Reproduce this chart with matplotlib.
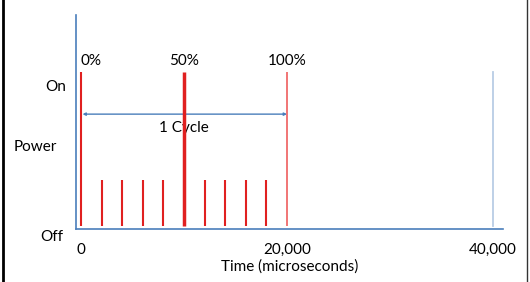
import matplotlib.pyplot as plt
from matplotlib.lines import Line2D

# pulse positions (microseconds) and heights (On = 1)
short_pulses = [2000, 4000, 6000, 8000, 12000, 14000, 16000, 18000]
short_height = 0.31
tall_pulses = [0, 10000, 20000]
tall_labels = ['0%', '50%', '100%']
tall_colors = ['#e02020', '#e02020', '#f06a6a']
tall_widths = [1.5, 2.5, 1.3]
next_cycle = 40000
cycle_start, cycle_end = 0, 20000
xticks = [0, 20000, 40000]
xtick_labels = ['0', '20,000', '40,000']

plt.rcParams['font.family'] = ['Lato', 'DejaVu Sans']
fs = 11

fig = plt.figure(figsize=(5.3, 2.82), dpi=100)
ax = fig.add_axes([76 / 530, 1 - 229 / 282, (503 - 76) / 530, (229 - 15) / 282])
ax.set_xlim(-485, 40970)
ax.set_ylim(0, 1.36)

base = 0.02
for x in short_pulses:
    ax.plot([x, x], [base, short_height], color='#e02020', lw=1.5, solid_capstyle='butt', zorder=3)
for x, lab, c, w in zip(tall_pulses, tall_labels, tall_colors, tall_widths):
    ax.plot([x, x], [base, 1.0], color=c, lw=w, solid_capstyle='butt', zorder=3)
    if x == 0:
        ax.text(x - 50, 1.07, lab, ha='left', va='center', fontsize=fs)
    else:
        ax.text(x, 1.07, lab, ha='center', va='center', fontsize=fs)
ax.plot([next_cycle, next_cycle], [base, 1.0], color='#b9cde5', lw=1.3, zorder=3)

# 1 cycle arrow
ax.annotate('', xy=(cycle_end, 0.73), xytext=(cycle_start + 150, 0.73),
            arrowprops=dict(arrowstyle='<|-|>', color='#4a7ebb', lw=1, mutation_scale=4,
                            shrinkA=0, shrinkB=0), zorder=2)
ax.text((cycle_start + cycle_end) / 2, 0.64, '1 Cycle', ha='center', va='center', fontsize=fs, zorder=2)

# y labels as text
ax.text(-1450, 0.90, 'On', ha='right', va='center', fontsize=fs)
ax.text(-4400, 0.52, 'Power', ha='center', va='center', fontsize=fs)
ax.text(-1750, -0.05, 'Off', ha='right', va='center', fontsize=fs)

ax.set_xticks(xticks)
ax.set_xticklabels(xtick_labels, fontsize=fs)
ax.tick_params(axis='x', length=0, pad=10)
ax.set_yticks([])
ax.set_xlabel('Time (microseconds)', fontsize=fs, labelpad=2)
for s in ['top', 'right']:
    ax.spines[s].set_visible(False)
ax.spines['left'].set_color('#4a7ebb')
ax.spines['bottom'].set_color('#4a7ebb')
ax.spines['left'].set_linewidth(1.2)
ax.spines['bottom'].set_linewidth(1.2)

# figure border lines left/right
fig.add_artist(Line2D([2.5 / 530, 2.5 / 530], [0, 1], color='black', lw=2, transform=fig.transFigure))
fig.add_artist(Line2D([526.5 / 530, 526.5 / 530], [0, 1], color='#333333', lw=1, transform=fig.transFigure))

fig.savefig('out.png', dpi=100)
